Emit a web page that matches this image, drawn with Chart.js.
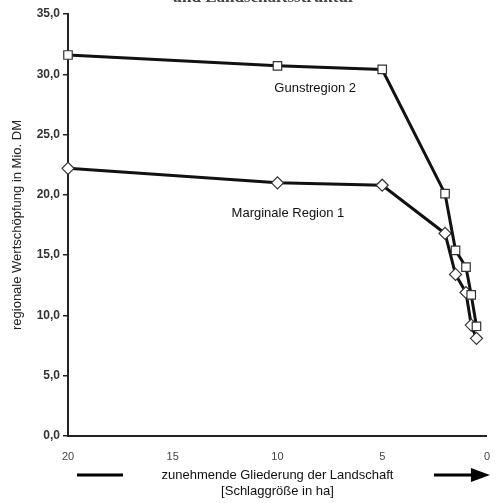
<!DOCTYPE html>
<html>
<head>
<meta charset="utf-8">
<script src="https://cdn.jsdelivr.net/npm/chart.js@4"></script>
<style>
  html, body { margin: 0; padding: 0; background: #fff; }
  #wrap { width: 496px; height: 503px; }
</style>
</head>
<body>
<div id="wrap"><canvas id="chart" width="496" height="503"></canvas></div>
<script>
// Schlaggröße (ha) and regional value added (Mio. DM)
const fieldSizes = [20, 10, 5, 2, 1.5, 1, 0.75, 0.5];
const gunstregion = [31.6, 30.7, 30.4, 20.1, 15.4, 14.0, 11.7, 9.1];
const marginal = [22.2, 21.0, 20.8, 16.8, 13.4, 11.9, 9.2, 8.1];
const xTicks = [20, 15, 10, 5, 0];
const yTicks = [0, 5, 10, 15, 20, 25, 30, 35];

const toPoints = vals => fieldSizes.map((x, i) => ({ x, y: vals[i] }));
const FONT = "'Liberation Sans', Arial, sans-serif";

// series labels inside the plot, placed in data coordinates
const seriesLabels = [
  { text: "Gunstregion 2", x: 8.2, y: 28.8 },
  { text: "Marginale Region 1", x: 9.5, y: 18.5 }
];

const decorations = {
  id: "decorations",
  afterDraw(chart) {
    const { ctx, scales: { x, y }, chartArea } = chart;
    ctx.save();
    ctx.fillStyle = "#111";
    ctx.font = "13px " + FONT;
    ctx.textAlign = "center";
    ctx.textBaseline = "middle";
    seriesLabels.forEach(l => {
      ctx.fillText(l.text, x.getPixelForValue(l.x), y.getPixelForValue(l.y));
    });

    // cut-off heading at the very top
    ctx.font = "bold 17px 'Liberation Serif', serif";
    ctx.fillStyle = "#444";
    ctx.textBaseline = "alphabetic";
    ctx.fillText("und Landschaftsstruktur", 264, 2);

    // arrow beside the x axis title
    const ay = 475;
    ctx.strokeStyle = "#000";
    ctx.lineWidth = 3;
    ctx.beginPath();
    ctx.moveTo(chartArea.left + 9, ay);
    ctx.lineTo(chartArea.left + 55, ay);
    ctx.moveTo(chartArea.right - 53, ay);
    ctx.lineTo(chartArea.right - 14, ay);
    ctx.stroke();
    ctx.fillStyle = "#000";
    ctx.beginPath();
    ctx.moveTo(chartArea.right + 3, ay);
    ctx.lineTo(chartArea.right - 16, ay - 7);
    ctx.lineTo(chartArea.right - 16, ay + 7);
    ctx.closePath();
    ctx.fill();
    ctx.restore();
  }
};

const seriesStyle = {
  borderColor: "#111",
  borderWidth: 3,
  pointRadius: 6,
  pointBackgroundColor: "#fff",
  pointBorderColor: "#333",
  pointBorderWidth: 1.2,
  tension: 0,
  clip: false
};

new Chart(document.getElementById("chart"), {
  type: "line",
  data: {
    datasets: [
      { label: "Gunstregion 2", data: toPoints(gunstregion), pointStyle: "rect", ...seriesStyle },
      { label: "Marginale Region 1", data: toPoints(marginal), pointStyle: "rectRot", ...seriesStyle }
    ]
  },
  options: {
    responsive: false,
    animation: false,
    layout: { padding: { top: 14, right: 6, left: 0, bottom: 0 } },
    plugins: {
      legend: { display: false },
      tooltip: { enabled: false }
    },
    scales: {
      x: {
        type: "linear",
        reverse: true,
        min: 0,
        max: 20,
        afterBuildTicks: s => { s.ticks = xTicks.map(v => ({ value: v })); },
        afterFit: s => { s.height = 67; },
        grid: { display: false },
        border: { display: true, color: "#222", width: 2 },
        ticks: {
          color: "#444",
          font: { family: FONT, size: 11 },
          padding: 6,
          maxRotation: 0
        },
        title: {
          display: true,
          text: ["zunehmende Gliederung der Landschaft", "[Schlaggröße in ha]"],
          color: "#111",
          font: { family: FONT, size: 13 },
          lineHeight: 1.5,
          padding: { top: 3 }
        }
      },
      y: {
        min: 0,
        max: 35,
        afterBuildTicks: s => { s.ticks = yTicks.map(v => ({ value: v })); },
        afterFit: s => { s.width = 68; },
        grid: { display: true, drawOnChartArea: false, drawTicks: true, tickLength: 5, color: "#222", lineWidth: 1.5 },
        border: { display: true, color: "#222", width: 2 },
        ticks: {
          color: "#333",
          font: { family: FONT, size: 12, weight: "bold" },
          padding: 3,
          callback: v => v.toFixed(1).replace(".", ",")
        },
        title: {
          display: true,
          text: "regionale Wertschöpfung in Mio. DM",
          color: "#222",
          font: { family: FONT, size: 13 },
          padding: { top: 10, bottom: 0 }
        }
      }
    }
  },
  plugins: [decorations]
});
</script>
</body>
</html>
